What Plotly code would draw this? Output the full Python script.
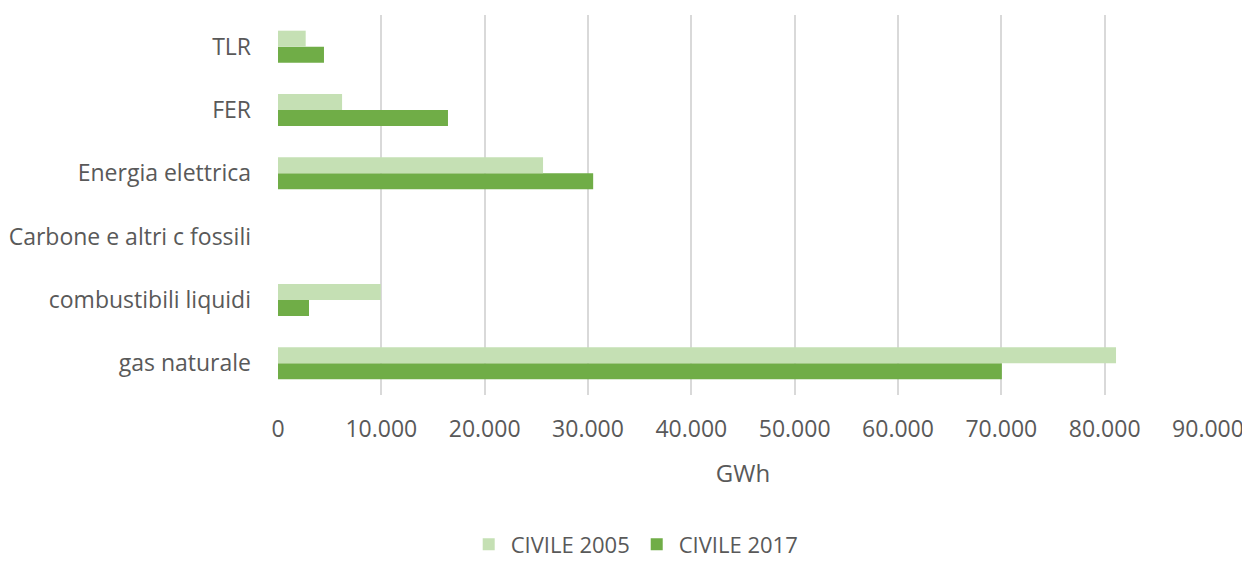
import plotly.graph_objects as go

categories = ["gas naturale", "combustibili liquidi", "Carbone e altri c fossili",
              "Energia elettrica", "FER", "TLR"]
civile_2005 = [81100, 9950, 0, 25650, 6200, 2680]
civile_2017 = [70050, 3000, 0, 30500, 16450, 4450]
tick_vals = [0, 10000, 20000, 30000, 40000, 50000, 60000, 70000, 80000, 90000]
tick_text = ["0", "10.000", "20.000", "30.000", "40.000", "50.000",
             "60.000", "70.000", "80.000", "90.000"]

FONT = "Open Sans"
GRAY = "#595959"

fig = go.Figure()
fig.add_trace(go.Bar(y=categories, x=civile_2017, orientation="h", name="CIVILE 2017",
                     marker=dict(color="#70ad47", line=dict(width=0))))
fig.add_trace(go.Bar(y=categories, x=civile_2005, orientation="h", name="CIVILE 2005",
                     marker=dict(color="#c5e0b4", line=dict(width=0))))

fig.update_layout(
    width=1242, height=553,
    margin=dict(l=270, r=42, t=7, b=166, autoexpand=False),
    paper_bgcolor="white", plot_bgcolor="white",
    barmode="group", bargap=0.495, bargroupgap=0,
    font=dict(family=FONT, color=GRAY),
    showlegend=True,
    legend=dict(orientation="h", traceorder="reversed",
                xref="container", yref="container",
                x=0.505, xanchor="center", y=0.03, yanchor="middle",
                font=dict(size=22, color=GRAY), itemwidth=34),
    xaxis=dict(range=[0, 90000], tickvals=tick_vals, ticktext=tick_text,
               showgrid=True, gridcolor="#d9d9d9", gridwidth=2,
               zeroline=False, showline=False,
               tickfont=dict(size=23, color=GRAY), ticklabelstandoff=18,
               title=dict(text="GWh", font=dict(size=24, color=GRAY), standoff=22)),
    yaxis=dict(categoryorder="array", categoryarray=categories,
               showgrid=False, zeroline=False, showline=False,
               tickfont=dict(size=23, color=GRAY), ticklabelstandoff=26),
)

fig.write_html("out.html")
